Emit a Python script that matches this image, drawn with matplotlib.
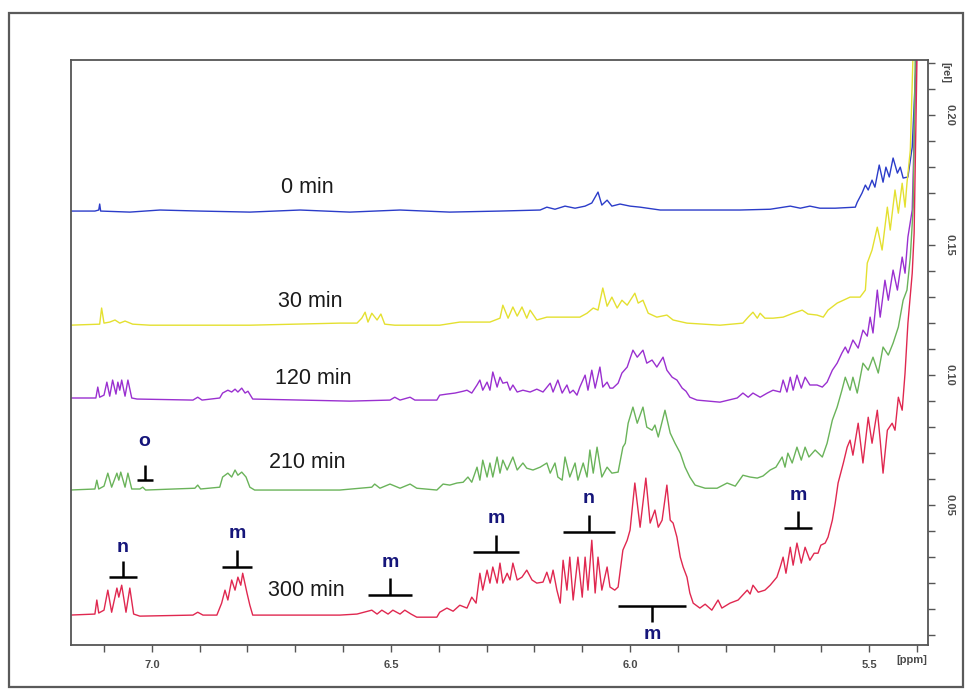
import matplotlib
matplotlib.use('Agg')
import matplotlib.pyplot as plt
from matplotlib.patches import Rectangle
from matplotlib.ticker import MultipleLocator, FixedLocator

# ---- spectra: chemical shift (ppm) and intensity (rel) ----
ppm_0 = [7.172, 7.119, 7.111, 7.109, 7.107, 7.046, 6.983, 6.900, 6.795, 6.690, 6.586, 6.481,
         6.377, 6.272, 6.188, 6.174, 6.157, 6.136, 6.115, 6.094, 6.080, 6.067, 6.059, 6.048,
         6.038, 6.021, 6.000, 5.979, 5.937, 5.854, 5.770, 5.707, 5.665, 5.644, 5.624, 5.603,
         5.571, 5.529, 5.525, 5.515, 5.508, 5.502, 5.494, 5.488, 5.479, 5.471, 5.465, 5.458,
         5.450, 5.441, 5.435, 5.429, 5.419, 5.410, 5.404, 5.400, 5.393]
int_0 = [.1631, .1631, .1635, .1658, .1631, .1627, .1635, .1631, .1627, .1635, .1627, .1635,
         .1627, .1631, .1635, .1646, .1638, .1650, .1642, .1650, .1662, .1704, .1654, .1673,
         .1650, .1658, .1650, .1646, .1635, .1635, .1635, .1638, .1650, .1642, .1650, .1642,
         .1642, .1646, .1665, .1700, .1731, .1712, .1750, .1723, .1808, .1742, .1800, .1762,
         .1835, .1777, .1800, .1758, .1762, .1877, .2123, .2250, .2450]

ppm_30 = [7.172, 7.109, 7.105, 7.100, 7.088, 7.077, 7.067, 7.056, 7.040, 7.004, 6.795, 6.607,
          6.571, 6.561, 6.554, 6.548, 6.540, 6.529, 6.521, 6.513, 6.492, 6.398, 6.356, 6.293,
          6.272, 6.266, 6.255, 6.245, 6.236, 6.226, 6.216, 6.209, 6.195, 6.174, 6.105, 6.090,
          6.077, 6.067, 6.057, 6.048, 6.038, 6.027, 6.017, 6.006, 5.998, 5.990, 5.983, 5.973,
          5.962, 5.944, 5.923, 5.910, 5.881, 5.812, 5.764, 5.753, 5.743, 5.734, 5.728, 5.718,
          5.701, 5.680, 5.659, 5.640, 5.628, 5.609, 5.596, 5.586, 5.567, 5.554, 5.540, 5.519,
          5.508, 5.504, 5.494, 5.483, 5.473, 5.462, 5.456, 5.446, 5.439, 5.431, 5.425, 5.421,
          5.414, 5.408, 5.404]
int_30 = [.1192, .1196, .1258, .1200, .1204, .1212, .1200, .1208, .1196, .1192, .1192, .1200,
          .1200, .1219, .1242, .1204, .1238, .1212, .1235, .1196, .1192, .1192, .1204, .1204,
          .1219, .1269, .1219, .1262, .1227, .1262, .1219, .1250, .1212, .1223, .1223, .1238,
          .1258, .1250, .1335, .1265, .1300, .1258, .1288, .1269, .1292, .1315, .1277, .1288,
          .1238, .1223, .1231, .1212, .1200, .1192, .1200, .1223, .1242, .1219, .1238, .1219,
          .1219, .1223, .1238, .1250, .1235, .1231, .1223, .1250, .1277, .1288, .1300, .1300,
          .1327, .1431, .1481, .1569, .1481, .1646, .1558, .1712, .1623, .1738, .1646, .1738,
          .1865, .2250, .2450]

ppm_120 = [7.172, 7.117, 7.113, 7.109, 7.100, 7.094, 7.088, 7.082, 7.075, 7.071, 7.067, 7.063,
           7.056, 7.050, 7.042, 7.031, 6.914, 6.904, 6.895, 6.858, 6.852, 6.841, 6.833, 6.826,
           6.820, 6.812, 6.805, 6.799, 6.789, 6.690, 6.586, 6.502, 6.492, 6.481, 6.460, 6.450,
           6.404, 6.398, 6.383, 6.366, 6.349, 6.341, 6.331, 6.320, 6.314, 6.308, 6.299, 6.293,
           6.287, 6.278, 6.272, 6.266, 6.257, 6.251, 6.245, 6.236, 6.224, 6.209, 6.195, 6.182,
           6.167, 6.161, 6.151, 6.142, 6.132, 6.126, 6.119, 6.111, 6.105, 6.094, 6.088, 6.080,
           6.073, 6.063, 6.057, 6.048, 6.042, 6.036, 6.025, 6.017, 6.006, 5.994, 5.985, 5.973,
           5.965, 5.954, 5.944, 5.931, 5.923, 5.912, 5.902, 5.891, 5.883, 5.875, 5.860, 5.812,
           5.776, 5.764, 5.753, 5.743, 5.728, 5.713, 5.701, 5.686, 5.680, 5.672, 5.665, 5.659,
           5.651, 5.642, 5.634, 5.624, 5.609, 5.598, 5.588, 5.577, 5.567, 5.557, 5.550, 5.544,
           5.534, 5.523, 5.513, 5.504, 5.498, 5.492, 5.483, 5.477, 5.467, 5.460, 5.450, 5.441,
           5.431, 5.425, 5.419, 5.410, 5.404, 5.400]
int_120 = [.0912, .0912, .0954, .0915, .0923, .0973, .0919, .0981, .0927, .0973, .0942, .0981,
           .0919, .0981, .0912, .0908, .0904, .0915, .0904, .0912, .0931, .0942, .0935, .0946,
           .0935, .0950, .0931, .0938, .0908, .0904, .0900, .0904, .0915, .0904, .0915, .0904,
           .0904, .0923, .0927, .0931, .0938, .0942, .0931, .0962, .0981, .0942, .0973, .0942,
           .1012, .0954, .0992, .0969, .0973, .0942, .0962, .0935, .0942, .0935, .0946, .0935,
           .0969, .0935, .0981, .0931, .0962, .0931, .0942, .0923, .0954, .1000, .0942, .1019,
           .0950, .1031, .0954, .0973, .0950, .0950, .0969, .1008, .1031, .1096, .1069, .1096,
           .1046, .1058, .1031, .1069, .1019, .0992, .0981, .0950, .0938, .0915, .0904, .0896,
           .0912, .0931, .0915, .0931, .0915, .0931, .0942, .0935, .0981, .0935, .0992, .0942,
           .1000, .0950, .0992, .0962, .0962, .0954, .0973, .1019, .1046, .1085, .1108, .1085,
           .1135, .1104, .1173, .1150, .1223, .1162, .1327, .1223, .1365, .1288, .1404, .1327,
           .1454, .1392, .1531, .1635, .2058, .2450]

ppm_210 = [7.172, 7.119, 7.115, 7.111, 7.100, 7.092, 7.084, 7.073, 7.069, 7.065, 7.056, 7.050,
           7.042, 7.025, 7.019, 7.013, 6.910, 6.904, 6.898, 6.858, 6.852, 6.841, 6.833, 6.826,
           6.820, 6.812, 6.803, 6.795, 6.785, 6.607, 6.540, 6.534, 6.523, 6.502, 6.481, 6.460,
           6.446, 6.404, 6.391, 6.377, 6.362, 6.349, 6.339, 6.331, 6.320, 6.314, 6.308, 6.299,
           6.293, 6.287, 6.278, 6.272, 6.266, 6.257, 6.245, 6.236, 6.224, 6.216, 6.203, 6.188,
           6.174, 6.167, 6.157, 6.151, 6.142, 6.136, 6.126, 6.115, 6.109, 6.098, 6.090, 6.084,
           6.077, 6.069, 6.059, 6.048, 6.038, 6.025, 6.015, 6.010, 6.004, 5.994, 5.985, 5.973,
           5.965, 5.954, 5.948, 5.941, 5.927, 5.916, 5.906, 5.895, 5.885, 5.875, 5.864, 5.843,
           5.818, 5.797, 5.780, 5.764, 5.749, 5.734, 5.722, 5.707, 5.695, 5.682, 5.676, 5.670,
           5.661, 5.651, 5.642, 5.634, 5.626, 5.613, 5.598, 5.588, 5.577, 5.567, 5.557, 5.550,
           5.540, 5.534, 5.525, 5.513, 5.502, 5.492, 5.481, 5.471, 5.460, 5.450, 5.439, 5.429,
           5.421, 5.414, 5.408, 5.402]
int_210 = [.0558, .0562, .0596, .0562, .0573, .0623, .0569, .0623, .0596, .0627, .0569, .0623,
           .0562, .0562, .0569, .0558, .0565, .0577, .0562, .0569, .0608, .0623, .0608, .0635,
           .0615, .0627, .0608, .0569, .0558, .0558, .0569, .0581, .0565, .0581, .0565, .0581,
           .0565, .0558, .0581, .0577, .0585, .0588, .0608, .0588, .0646, .0596, .0673, .0608,
           .0662, .0608, .0685, .0623, .0673, .0635, .0685, .0635, .0662, .0642, .0635, .0646,
           .0662, .0623, .0662, .0608, .0596, .0685, .0608, .0662, .0596, .0662, .0608, .0712,
           .0623, .0723, .0608, .0646, .0623, .0627, .0723, .0738, .0815, .0877, .0815, .0877,
           .0800, .0788, .0808, .0762, .0865, .0777, .0738, .0700, .0646, .0608, .0577, .0565,
           .0565, .0585, .0573, .0615, .0608, .0604, .0612, .0635, .0646, .0685, .0646, .0700,
           .0662, .0723, .0673, .0723, .0685, .0712, .0685, .0738, .0827, .0877, .0942, .0992,
           .0942, .0992, .0931, .1046, .1019, .1069, .1008, .1108, .1077, .1123, .1185, .1288,
           .1327, .1454, .1646, .2450]

ppm_300 = [7.172, 7.119, 7.115, 7.111, 7.100, 7.092, 7.084, 7.073, 7.069, 7.063, 7.054, 7.046,
           7.038, 7.025, 6.914, 6.904, 6.893, 6.864, 6.854, 6.847, 6.841, 6.833, 6.826, 6.820,
           6.814, 6.810, 6.801, 6.795, 6.789, 6.607, 6.571, 6.540, 6.529, 6.519, 6.506, 6.496,
           6.481, 6.471, 6.458, 6.446, 6.404, 6.398, 6.383, 6.370, 6.356, 6.341, 6.331, 6.322,
           6.314, 6.308, 6.299, 6.293, 6.287, 6.278, 6.272, 6.266, 6.257, 6.251, 6.245, 6.236,
           6.226, 6.216, 6.205, 6.195, 6.182, 6.174, 6.167, 6.161, 6.153, 6.146, 6.140, 6.132,
           6.126, 6.119, 6.109, 6.100, 6.094, 6.088, 6.080, 6.073, 6.067, 6.059, 6.048, 6.042,
           6.032, 6.025, 6.015, 6.006, 6.000, 5.990, 5.979, 5.967, 5.958, 5.948, 5.941, 5.933,
           5.923, 5.916, 5.910, 5.902, 5.895, 5.889, 5.881, 5.875, 5.868, 5.854, 5.843, 5.829,
           5.816, 5.808, 5.791, 5.774, 5.755, 5.749, 5.743, 5.732, 5.718, 5.707, 5.693, 5.686,
           5.680, 5.674, 5.665, 5.659, 5.651, 5.642, 5.634, 5.624, 5.615, 5.607, 5.601, 5.592,
           5.586, 5.577, 5.571, 5.565, 5.554, 5.546, 5.540, 5.534, 5.523, 5.513, 5.502, 5.494,
           5.483, 5.477, 5.471, 5.462, 5.452, 5.446, 5.439, 5.431, 5.425, 5.419, 5.410, 5.406,
           5.398]
int_300 = [.0077, .0081, .0135, .0085, .0096, .0173, .0088, .0181, .0146, .0192, .0088, .0181,
           .0081, .0073, .0077, .0088, .0077, .0077, .0123, .0173, .0135, .0212, .0173, .0223,
           .0192, .0238, .0162, .0115, .0077, .0077, .0081, .0096, .0081, .0096, .0081, .0096,
           .0081, .0096, .0081, .0069, .0069, .0088, .0104, .0092, .0115, .0104, .0146, .0123,
           .0238, .0173, .0250, .0200, .0262, .0200, .0277, .0200, .0238, .0212, .0277, .0212,
           .0223, .0250, .0212, .0200, .0204, .0242, .0200, .0250, .0173, .0123, .0288, .0173,
           .0300, .0135, .0300, .0146, .0300, .0173, .0365, .0162, .0300, .0173, .0262, .0185,
           .0173, .0185, .0327, .0365, .0404, .0585, .0415, .0604, .0431, .0481, .0415, .0442,
           .0577, .0442, .0431, .0377, .0300, .0262, .0223, .0162, .0123, .0104, .0119, .0096,
           .0135, .0104, .0123, .0135, .0173, .0158, .0192, .0165, .0173, .0192, .0223, .0262,
           .0300, .0238, .0338, .0269, .0354, .0277, .0338, .0288, .0315, .0315, .0346, .0354,
           .0377, .0442, .0508, .0585, .0662, .0723, .0750, .0692, .0815, .0662, .0838, .0738,
           .0865, .0750, .0623, .0788, .0815, .0788, .0915, .0865, .1008, .1200, .1392, .1546,
           .2450]

spectra = [
    (ppm_0, int_0, '#2b3cc9', '0 min', 6.674, 0.1723),
    (ppm_30, int_30, '#e4e030', '30 min', 6.669, 0.1285),
    (ppm_120, int_120, '#9a30d0', '120 min', 6.663, 0.0988),
    (ppm_210, int_210, '#6ab35a', '210 min', 6.674, 0.0662),
    (ppm_300, int_300, '#e02850', '300 min', 6.676, 0.0173),
]

# peak assignment marks: letter, centre (ppm), half bar width (ppm), bar height, stem end, letter height
marks = [
    ('o', 7.015, 0.017, 0.0596, 0.0654, 0.0746),
    ('n', 7.061, 0.029, 0.0223, 0.0285, 0.0338),
    ('m', 6.822, 0.031, 0.0262, 0.0327, 0.0392),
    ('m', 6.502, 0.046, 0.0154, 0.0219, 0.0281),
    ('m', 6.280, 0.048, 0.0319, 0.0385, 0.0450),
    ('n', 6.086, 0.054, 0.0396, 0.0462, 0.0527),
    ('m', 5.954, 0.071, 0.0112, 0.0050, 0.0004),
    ('m', 5.649, 0.029, 0.0412, 0.0477, 0.0538),
]

fig = plt.figure(figsize=(9.71, 6.91), dpi=100)
ax = fig.add_axes([71/971, 46/691, 857/971, 585/691])

for x, y, c, lab, lx, ly in spectra:
    ax.plot(x, y, color=c, lw=1.0)
    ax.text(lx, ly, lab, fontsize=15.5, family=['Liberation Sans', 'DejaVu Sans'],
            ha='center', va='center', color='#1a1a1a')

for lab, xc, hw, yb, ys, yt in marks:
    ax.plot([xc - hw, xc + hw], [yb, yb], color='black', lw=1.8, solid_capstyle='butt')
    ax.plot([xc, xc], [yb, ys], color='black', lw=1.8, solid_capstyle='butt')
    ax.text(xc, yt, lab, fontsize=14, fontweight='bold', color='#15157a',
            family=['Liberation Sans', 'DejaVu Sans'], ha='center', va='center')

ax.set_xlim(7.169, 5.377)
ax.set_ylim(-0.0038, 0.2212)

tickfont = dict(family=['Liberation Sans Narrow', 'Liberation Sans', 'DejaVu Sans'],
                size=8, weight='bold', color='#4a4a4a')

ax.xaxis.set_major_locator(FixedLocator([7.0, 6.5, 6.0, 5.5]))
ax.xaxis.set_minor_locator(FixedLocator([7.1, 6.9, 6.8, 6.7, 6.6, 6.4, 6.3, 6.2, 6.1,
                                         5.9, 5.8, 5.7, 5.6, 5.4]))
ax.set_xticklabels(['7.0', '6.5', '6.0', '5.5'], **tickfont)

ax.yaxis.tick_right()
ax.yaxis.set_major_locator(FixedLocator([0.05, 0.10, 0.15, 0.20]))
ax.yaxis.set_minor_locator(MultipleLocator(0.01))
ax.set_yticklabels(['0.05', '0.10', '0.15', '0.20'], rotation=-90, va='center', **tickfont)

ax.tick_params(which='both', direction='out', length=5, width=1.0, color='#555555')
ax.tick_params(axis='x', which='major', pad=6)
ax.tick_params(axis='y', which='major', pad=7)

for s in ax.spines.values():
    s.set_color('#555555')
    s.set_linewidth(1.3)

fig.text(912/971, 1 - 660/691, '[ppm]', ha='center', va='center', **tickfont)
fig.text(945/971, 1 - 72/691, '[rel]', ha='center', va='center', rotation=-90, **tickfont)

# outer frame around the whole figure
fig.add_artist(Rectangle((9/971, 4/691), 954/971, 674/691, transform=fig.transFigure,
                         fill=False, edgecolor='#5a5a5a', lw=1.6))

fig.savefig('out.png', dpi=100, facecolor='white')
